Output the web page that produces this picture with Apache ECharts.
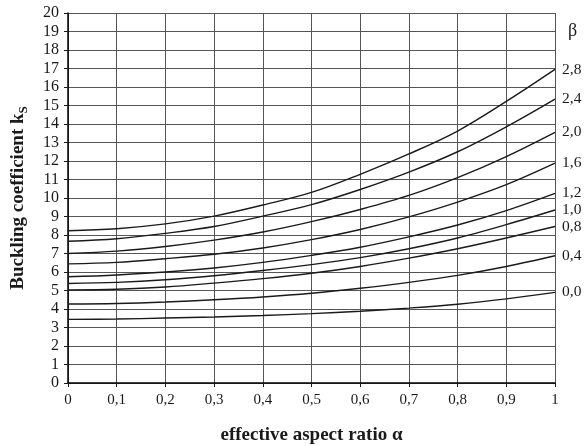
<!DOCTYPE html>
<html>
<head>
<meta charset="utf-8">
<script src="https://cdn.jsdelivr.net/npm/echarts@6/dist/echarts.min.js"></script>
<style>
html,body{margin:0;padding:0;background:#fff;}
#c{width:587px;height:446px;}
</style>
</head>
<body>
<div id="c"></div>
<script>
// ---- data ----
var alpha = [0, 0.1, 0.2, 0.3, 0.4, 0.5, 0.6, 0.7, 0.8, 0.9, 1.0];
var xTickLabels = ['0', '0,1', '0,2', '0,3', '0,4', '0,5', '0,6', '0,7', '0,8', '0,9', '1'];
var betaNames = ['2,8', '2,4', '2,0', '1,6', '1,2', '1,0', '0,8', '0,4', '0,0'];
var k_b28 = [8.23, 8.34, 8.60, 9.02, 9.62, 10.30, 11.28, 12.38, 13.62, 15.22, 16.95];
var k_b24 = [7.66, 7.80, 8.09, 8.46, 9.02, 9.64, 10.46, 11.40, 12.50, 13.85, 15.35];
var k_b20 = [7.00, 7.13, 7.38, 7.72, 8.16, 8.72, 9.38, 10.14, 11.10, 12.24, 13.55];
var k_b16 = [6.44, 6.52, 6.72, 6.96, 7.30, 7.75, 8.30, 8.98, 9.78, 10.72, 11.88];
var k_b12 = [5.74, 5.84, 6.00, 6.22, 6.52, 6.90, 7.34, 7.90, 8.54, 9.32, 10.25];
var k_b10 = [5.38, 5.44, 5.58, 5.80, 6.08, 6.40, 6.78, 7.26, 7.84, 8.56, 9.35];
var k_b08 = [5.03, 5.07, 5.19, 5.40, 5.64, 5.93, 6.30, 6.75, 7.26, 7.84, 8.46];
var k_b04 = [4.27, 4.30, 4.38, 4.50, 4.65, 4.85, 5.12, 5.44, 5.82, 6.30, 6.88];
var k_b00 = [3.44, 3.46, 3.51, 3.57, 3.65, 3.75, 3.88, 4.05, 4.26, 4.55, 4.90];
var seriesValues = [k_b28, k_b24, k_b20, k_b16, k_b12, k_b10, k_b08, k_b04, k_b00];
var yMin = 0, yMax = 20, yStep = 1;

var FONT = '"Liberation Serif", "Times New Roman", serif';
var INK = '#1a1a1a';

var chart = echarts.init(document.getElementById('c'), null, {renderer: 'canvas'});

var series = seriesValues.map(function (vals, i) {
  return {
    name: betaNames[i],
    type: 'line',
    smooth: 0.35,
    symbol: 'none',
    data: alpha.map(function (a, j) { return [a, vals[j]]; }),
    lineStyle: {color: INK, width: 1.4},
    silent: true,
    endLabel: {
      show: true,
      formatter: '{a}',
      distance: 7,
      offset: [0, 0],
      color: INK,
      fontFamily: FONT,
      fontSize: 15.5
    }
  };
});

chart.setOption({
  animation: false,
  backgroundColor: '#fff',
  grid: {left: 68, right: 32, top: 13, bottom: 63, containLabel: false, outerBoundsMode: 'none'},
  xAxis: {
    type: 'value',
    min: 0, max: 1, interval: 0.1,
    name: 'effective aspect ratio \u03b1',
    nameLocation: 'middle',
    nameGap: 43,
    nameTextStyle: {fontFamily: FONT, fontWeight: 'bold', fontSize: 19, color: INK},
    axisLine: {show: true, lineStyle: {color: '#000', width: 1.5}},
    axisTick: {show: true, length: 4, lineStyle: {color: INK}},
    axisLabel: {
      margin: 10, color: INK, fontFamily: FONT, fontSize: 15,
      formatter: function (v) { return xTickLabels[Math.round(v * 10)]; }
    },
    splitLine: {show: true, lineStyle: {color: '#555', width: 1}}
  },
  yAxis: {
    type: 'value',
    min: yMin, max: yMax, interval: yStep,
    name: '{b|Buckling coefficient k}{s|S}',
    nameLocation: 'middle',
    nameRotate: 90,
    nameGap: 38,
    nameTextStyle: {
      rich: {
        b: {fontFamily: FONT, fontWeight: 'bold', fontSize: 19, color: INK, lineHeight: 24},
        s: {fontFamily: FONT, fontWeight: 'bold', fontSize: 13, color: INK, lineHeight: 12, verticalAlign: 'bottom'}
      }
    },
    axisLine: {show: true, lineStyle: {color: '#000', width: 1.5}},
    axisTick: {show: true, length: 4, lineStyle: {color: INK}},
    axisLabel: {margin: 9, color: INK, fontFamily: FONT, fontSize: 16},
    splitLine: {show: true, lineStyle: {color: '#555', width: 1}}
  },
  graphic: [{
    type: 'text',
    left: 568,
    top: 22,
    style: {text: '\u03b2', font: '18px ' + FONT, fill: INK}
  }],
  series: series
});
</script>
</body>
</html>
